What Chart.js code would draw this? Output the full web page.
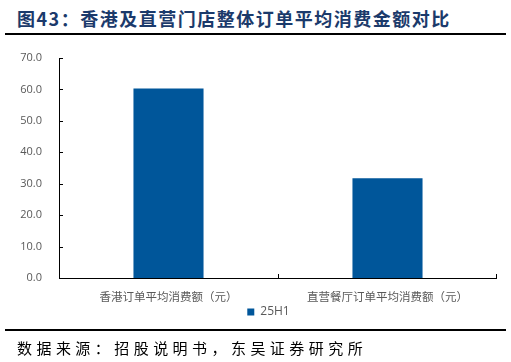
<!DOCTYPE html>
<html><head><meta charset="utf-8">
<script src="https://cdn.jsdelivr.net/npm/chart.js@4"></script>
<style>
html,body{margin:0;padding:0;background:#fff;}
#wrap{position:relative;width:511px;height:362px;overflow:hidden;}
#title{position:absolute;left:17px;top:6px;font-family:"Noto Sans CJK SC",serif;font-weight:bold;font-size:18px;letter-spacing:1.5px;color:#1B3A6B;white-space:nowrap;line-height:24px;}
#l1{position:absolute;left:5px;top:33px;width:501px;height:2px;background:#000;}
#l2{position:absolute;left:5px;top:329px;width:501px;height:2px;background:#000;}
#src{position:absolute;left:17px;top:337px;font-family:"Noto Sans CJK SC",serif;font-size:15px;letter-spacing:4.45px;color:#000;white-space:nowrap;line-height:22px;}
#c{position:absolute;left:0;top:0;}
</style></head><body>
<div id="wrap">
<div id="title">图43：香港及直营门店整体订单平均消费金额对比</div>
<div id="l1"></div>
<canvas id="c" width="511" height="362"></canvas>
<div id="l2"></div>
<div id="src">数据来源：招股说明书，东吴证券研究所</div>
</div>
<script>
const categories = ["香港订单平均消费额（元）", "直营餐厅订单平均消费额（元）"];
const seriesName = "25H1";
const values = [60.3, 31.7];
const yTicks = [0, 10, 20, 30, 40, 50, 60, 70];

const tickMarks = {
  id: 'tickMarks',
  afterLayout(chart) {
    const l = chart.legend;
    if (l) { l.left = 40; l.width = l.right - l.left; }
  },
  afterDraw(chart) {
    const ctx = chart.ctx, x = chart.scales.x, y = chart.scales.y;
    const a = chart.chartArea;
    ctx.save();
    ctx.strokeStyle = '#000';
    ctx.lineWidth = 1;
    ctx.beginPath();
    ctx.moveTo(a.left + 0.5, a.top); ctx.lineTo(a.left + 0.5, a.bottom + 0.5);
    ctx.lineTo(a.right, a.bottom + 0.5);
    yTicks.forEach(v => {
      const py = Math.round(y.getPixelForValue(v)) + 0.5;
      ctx.moveTo(a.left, py); ctx.lineTo(a.left + 4, py);
    });
    for (let i = 1; i <= categories.length; i++) {
      const px = Math.round((x.getPixelForValue(i - 1) + x.getPixelForValue(i)) / 2);
      const ppx = i === categories.length ? Math.round(a.right) - 0.5 : px + 0.5;
      ctx.moveTo(ppx, a.bottom); ctx.lineTo(ppx, a.bottom - 4);
    }
    ctx.stroke();
    ctx.restore();
  }
};

new Chart(document.getElementById('c'), {
  type: 'bar',
  data: {
    labels: categories,
    datasets: [{
      label: seriesName,
      data: values,
      backgroundColor: '#00569A',
      borderWidth: 0,
      barPercentage: 0.64,
      categoryPercentage: 0.5
    }]
  },
  options: {
    responsive: false,
    animation: false,
    layout: { padding: { top: 58, right: 14, bottom: 34, left: 0 } },
    plugins: {
      tooltip: { enabled: false },
      title: { display: false },
      legend: {
        position: 'bottom',
        labels: {
          boxWidth: 7, boxHeight: 7, padding: 4,
          color: '#595959',
          font: { family: '"Open Sans","Noto Sans CJK SC"', size: 12 }
        }
      }
    },
    scales: {
      x: {
        grid: { display: false, drawTicks: false },
        border: { display: false },
        ticks: {
          color: '#595959', padding: 12, maxRotation: 0,
          font: { family: '"Noto Sans CJK SC"', size: 11.5 }
        },
        afterFit(s) { s.height = 24; }
      },
      y: {
        min: 0, max: 70,
        afterBuildTicks(s) { s.ticks = yTicks.map(v => ({ value: v })); },
        grid: { display: false, drawTicks: false },
        border: { display: false },
        ticks: {
          color: '#595959', padding: 17,
          font: { family: '"Open Sans","Noto Sans CJK SC"', size: 11 },
          callback: v => Number(v).toFixed(1)
        },
        afterFit(s) { s.width = 59; }
      }
    }
  },
  plugins: [tickMarks]
});
</script>
</body></html>
